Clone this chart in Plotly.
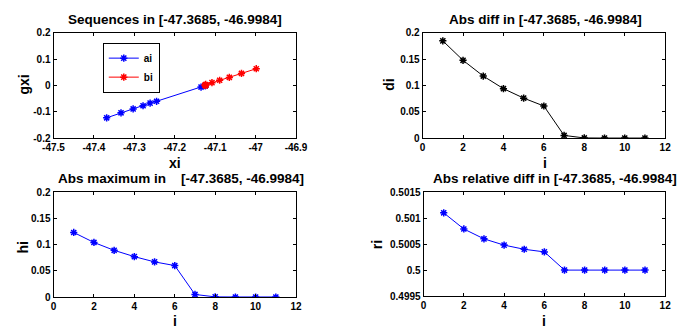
import plotly.graph_objects as go

i_vals = [1, 2, 3, 4, 5, 6, 7, 8, 9, 10, 11]
ai = [-47.3685, -47.3330, -47.3030, -47.2785, -47.2610, -47.2450, -47.1350, -47.1245, -47.1242, -47.1241, -47.1241]
gai = [-0.123, -0.104, -0.089, -0.077, -0.067, -0.060, -0.006, -0.0003, -0.0001, 0.0, 0.0]
bi = [-46.9984, -47.0350, -47.0650, -47.0890, -47.1080, -47.1235, -47.1250, -47.1243, -47.1241, -47.1241, -47.1241]
gbi = [0.064, 0.046, 0.031, 0.020, 0.011, 0.004, 0.002, 0.0003, 0.0001, 0.0, 0.0]
di = [0.185, 0.148, 0.118, 0.094, 0.076, 0.061, 0.005, 0.0002, 0.0, 0.0, 0.0]
hi = [0.123, 0.104, 0.089, 0.077, 0.067, 0.060, 0.005, 0.0004, 0.0002, 0.0002, 0.0002]
ri = [0.50110, 0.50079, 0.50060, 0.50048, 0.50040, 0.50035, 0.50000, 0.50000, 0.50000, 0.50000, 0.50000]

W, H = 681, 332
FONT = "Liberation Sans"

def px_dom(a, b, total):
    return [a / total, b / total]

def ydom(top, bottom):
    return [1 - bottom / H, 1 - top / H]

fig = go.Figure()

def mk(color):
    return dict(symbol="asterisk-open", size=6, color=color, line=dict(color=color, width=1.5))

fig.add_trace(go.Scatter(x=ai, y=gai, mode="lines+markers", name="<b>ai</b>",
                         line=dict(color="#0000ff", width=1), marker=mk("#0000ff"),
                         xaxis="x", yaxis="y"))
fig.add_trace(go.Scatter(x=bi, y=gbi, mode="lines+markers", name="<b>bi</b>",
                         line=dict(color="#ff0000", width=1), marker=mk("#ff0000"),
                         xaxis="x", yaxis="y"))
fig.add_trace(go.Scatter(x=i_vals, y=di, mode="lines+markers", showlegend=False,
                         line=dict(color="#000000", width=1), marker=mk("#000000"),
                         xaxis="x2", yaxis="y2"))
fig.add_trace(go.Scatter(x=i_vals, y=hi, mode="lines+markers", showlegend=False,
                         line=dict(color="#0000ff", width=1), marker=mk("#0000ff"),
                         xaxis="x3", yaxis="y3"))
fig.add_trace(go.Scatter(x=i_vals, y=ri, mode="lines+markers", showlegend=False,
                         line=dict(color="#0000ff", width=1), marker=mk("#0000ff"),
                         xaxis="x4", yaxis="y4"))

tickfont = dict(family=FONT, size=10, color="black")

def axis(dom, rng, tv, tt, anchor):
    return dict(domain=dom, range=rng, tickvals=tv, ticktext=["<b>%s</b>" % t for t in tt],
                anchor=anchor, showline=True, linecolor="black", linewidth=1, mirror="ticks",
                ticks="inside", ticklen=3, tickcolor="black", showgrid=False,
                zeroline=False, tickfont=tickfont, fixedrange=True)

xt1 = [-47.5, -47.4, -47.3, -47.2, -47.1, -47.0, -46.9]
xt1l = ["-47.5", "-47.4", "-47.3", "-47.2", "-47.1", "-47", "-46.9"]
yt1 = [-0.2, -0.1, 0, 0.1, 0.2]
yt1l = ["-0.2", "-0.1", "0", "0.1", "0.2"]
xti = [0, 2, 4, 6, 8, 10, 12]
xtil = ["0", "2", "4", "6", "8", "10", "12"]
ytd = [0, 0.05, 0.1, 0.15, 0.2]
ytdl = ["0", "0.05", "0.1", "0.15", "0.2"]
ytr = [0.4995, 0.5, 0.5005, 0.501, 0.5015]
ytrl = ["0.4995", "0.5", "0.5005", "0.501", "0.5015"]

fig.update_layout(
    width=W, height=H, margin=dict(l=0, r=0, t=0, b=0),
    paper_bgcolor="white", plot_bgcolor="white",
    font=dict(family=FONT, color="black"),
    xaxis=axis(px_dom(44, 295, W), [-47.5, -46.9], xt1, xt1l, "y"),
    yaxis=axis(ydom(28, 137), [-0.2, 0.2], yt1, yt1l, "x"),
    xaxis2=axis(px_dom(426, 677, W), [0, 12], xti, xtil, "y2"),
    yaxis2=axis(ydom(28, 137), [0, 0.2], ytd, ytdl, "x2"),
    xaxis3=axis(px_dom(44, 295, W), [0, 12], xti, xtil, "y3"),
    yaxis3=axis(ydom(193, 302), [0, 0.2], ytd, ytdl, "x3"),
    xaxis4=axis(px_dom(427, 677, W), [0, 12], xti, xtil, "y4"),
    yaxis4=axis(ydom(193, 301), [0.4995, 0.5015], ytr, ytrl, "x4"),
    legend=dict(x=95 / W, y=1 - 38 / H, xanchor="left", yanchor="top",
                bordercolor="black", borderwidth=1, bgcolor="white",
                font=dict(family=FONT, size=10, color="black"),
                tracegroupgap=0, itemwidth=30),
    showlegend=True,
)

def ann(text, x, y, size, angle=0):
    fig.add_annotation(text="<b>%s</b>" % text, x=x / W, y=1 - y / H, xref="paper", yref="paper",
                       showarrow=False, xanchor="center", yanchor="middle", textangle=angle,
                       font=dict(family=FONT, size=size, color="black"))

TS = 13.5
AS = 14
ann("Sequences in [-47.3685, -46.9984]", 170, 14, TS)
ann("Abs diff in [-47.3685, -46.9984]", 553, 14, TS)
ann("Abs maximum in &nbsp;&nbsp;&nbsp;[-47.3685, -46.9984]", 176, 179, TS)
ann("Abs relative diff in [-47.3685, -46.9984]", 563, 179, TS)
ann("xi", 170, 163, AS)
ann("i", 553, 163, AS)
ann("i", 170, 327, AS)
ann("i", 552, 327, AS)
ann("gxi", 14, 82, AS, -90)
ann("di", 391, 82, AS, -90)
ann("hi", 12, 251, AS, -90)
ann("ri", 379, 248, AS, -90)

fig.write_html("out.html")
